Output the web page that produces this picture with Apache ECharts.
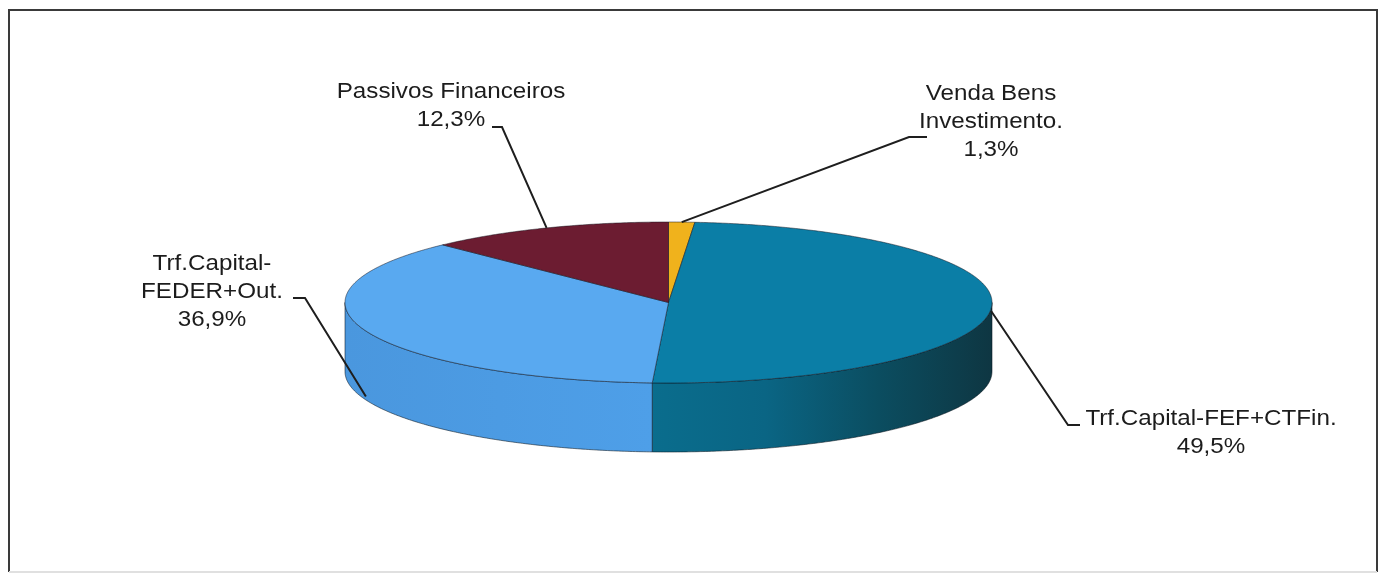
<!DOCTYPE html>
<html><head><meta charset="utf-8">
<script src="https://cdn.jsdelivr.net/npm/echarts@6/dist/echarts.min.js"></script>
<style>html,body{margin:0;padding:0;background:#fff}#c{width:1382px;height:575px}</style>
</head><body><div id="c"></div>
<script>
// ---- data ----
const categories = ['Venda Bens\nInvestimento.', 'Trf.Capital-FEF+CTFin.', 'Trf.Capital-\nFEDER+Out.', 'Passivos Financeiros'];
const values = [1.3, 49.5, 36.9, 12.3];

// ---- styles / layout ----
const topColors = ['#f0b21c', '#0b7ea6', '#59a9f0', '#6c1c31'];
const sideColors = [['#c8900f', '#a8780a'], ['#0a6d8d', '#0a6584', '#0b4d60', '#0e3642'], ['#4a97de', '#4e9fe8'], ['#5a1628', '#4a1020']];
const labelPos = [[991, 122], [1211, 433], [212, 292], [451, 106]];
const leaderStart = [[[927, 137], [909, 137]], [[1080, 425], [1068, 425]], [[293, 298], [305, 298]], [[492, 127], [502, 127]]];
const anchorDepth = [0, 0.05, 0.95, 0];
const CX = 668.5, CY = 302.5, RX = 323.5, RY = 80.5, DEPTH = 69;

const total = values.reduce((a, b) => a + b, 0);
function pt(a, dy) {
  const r = a * Math.PI / 180;
  return [CX + RX * Math.sin(r), CY - RY * Math.cos(r) + (dy || 0)];
}
function arc(a0, a1, dy) {
  const pts = [];
  const n = Math.max(2, Math.ceil((a1 - a0) / 0.5));
  for (let k = 0; k <= n; k++) pts.push(pt(a0 + (a1 - a0) * k / n, dy));
  return pts;
}

function renderItem(params, api) {
  const i = params.dataIndex;
  let before = 0;
  for (let k = 0; k < i; k++) before += values[k];
  const v = api.value(0);
  const a0 = before / total * 360;
  const a1 = (before + v) / total * 360;
  const children = [];
  // side wall (front visible part)
  const lo = Math.max(a0, 90), hi = Math.min(a1, 270);
  if (lo < hi) {
    const topArc = arc(lo, hi, 0);
    const botArc = arc(lo, hi, DEPTH).reverse();
    const sc = sideColors[i];
    // stops listed from screen-left to screen-right
    const leftIsStart = topArc[0][0] < topArc[topArc.length - 1][0];
    const ordered = leftIsStart ? sc.slice().reverse() : sc.slice();
    const stops = ordered.map((c, k) => ({ offset: k / (ordered.length - 1), color: c }));
    children.push({
      type: 'polygon', z2: 1,
      shape: { points: topArc.concat(botArc) },
      style: {
        fill: new echarts.graphic.LinearGradient(0, 0, 1, 0, stops),
        stroke: 'rgba(10,20,30,0.55)', lineWidth: 1
      }
    });
  }
  // top face
  children.push({
    type: 'polygon', z2: 10,
    shape: { points: [[CX, CY]].concat(arc(a0, a1, 0)) },
    style: { fill: topColors[i], stroke: 'rgba(20,20,30,0.5)', lineWidth: 1 }
  });
  // leader line
  const mid = (a0 + a1) / 2;
  const anchor = pt(mid, DEPTH * anchorDepth[i]);
  children.push({
    type: 'polyline', z2: 20,
    shape: { points: leaderStart[i].concat([anchor]) },
    style: { stroke: '#1e1e1e', lineWidth: 2, fill: null }
  });
  // label
  const pct = v.toFixed(1).replace('.', ',') + '%';
  children.push({
    type: 'text', z2: 20,
    x: labelPos[i][0], y: labelPos[i][1], scaleX: 1.1,
    style: {
      text: categories[i] + '\n' + pct,
      fontSize: 22, fontFamily: 'Arial, "Liberation Sans", sans-serif',
      fill: '#1c1c1c', align: 'center', verticalAlign: 'middle', lineHeight: 28
    }
  });
  return { type: 'group', children: children };
}

const chart = echarts.init(document.getElementById('c'), null, { renderer: 'canvas' });
chart.setOption({
  animation: false,
  backgroundColor: '#ffffff',
  graphic: [
    { type: 'polyline', shape: { points: [[9, 572], [9, 10], [1377, 10], [1377, 572]] }, style: { stroke: '#3a3a3a', lineWidth: 2, fill: null } },
    { type: 'line', shape: { x1: 9, y1: 572, x2: 1377, y2: 572 }, style: { stroke: '#e0e0e0', lineWidth: 2 } }
  ],
  series: [{
    type: 'custom',
    coordinateSystem: 'none',
    renderItem: renderItem,
    data: values.map((v, i) => ({ value: [v], name: categories[i] }))
  }]
});
</script>
</body></html>
